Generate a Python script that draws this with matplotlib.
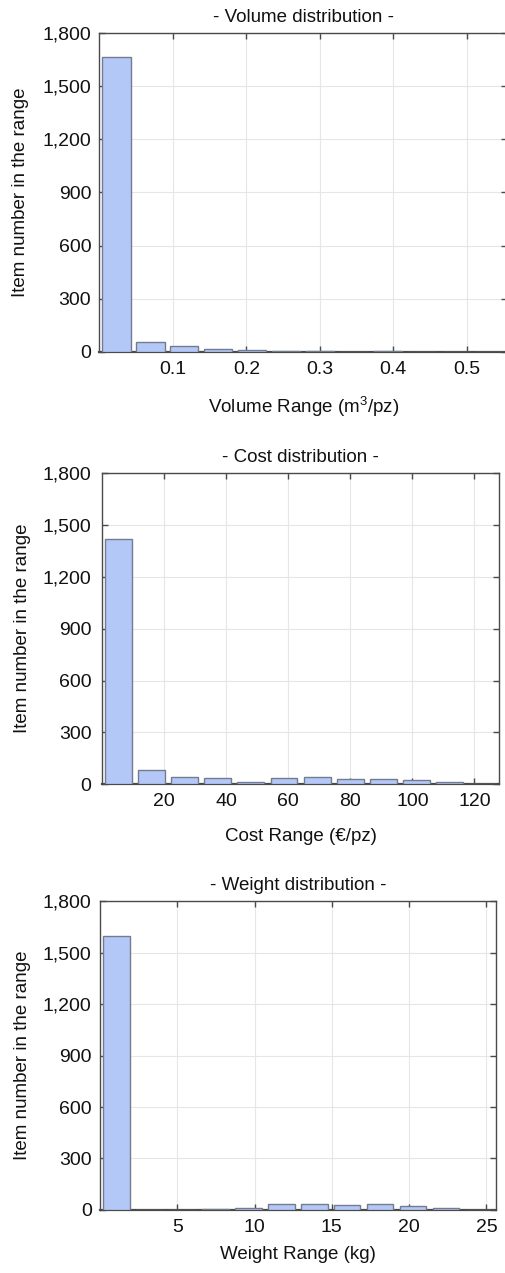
import matplotlib
matplotlib.use("Agg")
import matplotlib.pyplot as plt
from matplotlib.ticker import FuncFormatter
import numpy as np

plt.rcParams['font.family'] = ['Liberation Sans', 'DejaVu Sans']
plt.rcParams['mathtext.default'] = 'regular'

# Volume histogram (m3/pz), 12 equal bins over 0..0.555
volume_max = 0.555
volume_counts = [1665, 55, 33, 18, 9, 8, 4, 0, 3, 0, 0, 2]
volume_ticks = [0.1, 0.2, 0.3, 0.4, 0.5]

# Cost histogram (EUR/pz), 12 equal bins over 0..128
cost_max = 128
cost_counts = [1421, 81, 42, 35, 15, 36, 42, 29, 32, 27, 15, 3]
cost_ticks = [20, 40, 60, 80, 100, 120]

# Weight histogram (kg), 12 equal bins over 0..25.6
weight_max = 25.6
weight_counts = [1598, 0, 0, 3, 10, 35, 35, 30, 35, 25, 12, 0]
weight_ticks = [5, 10, 15, 20, 25]

y_ticks = [0, 300, 600, 900, 1200, 1500, 1800]

FS = 13.5
TICK_FS = 14

panels = [
    dict(title="- Volume distribution -", xlabel="Volume Range (m$^3$/pz)",
         xmax=volume_max, counts=volume_counts, xticks=volume_ticks,
         fmt=lambda v, p: f"{v:.1f}",
         rect=[0.1966, 0.7235, 0.8054, 0.2506], bw=0.83,
         xl_y=-0.134, yl_x=-0.173, ypad=6),
    dict(title="- Cost distribution -", xlabel="Cost Range (€/pz)",
         xmax=cost_max, counts=cost_counts, xticks=cost_ticks,
         fmt=lambda v, p: f"{v:.0f}",
         rect=[0.2012, 0.3840, 0.7856, 0.2443], bw=0.81,
         xl_y=-0.141, yl_x=-0.178, ypad=7.5),
    dict(title="- Weight distribution -", xlabel="Weight Range (kg)",
         xmax=weight_max, counts=weight_counts, xticks=weight_ticks,
         fmt=lambda v, p: f"{v:.0f}",
         rect=[0.1976, 0.0495, 0.7820, 0.2427], bw=0.80,
         xl_y=-0.117, yl_x=-0.174, ypad=6),
]

fig = plt.figure(figsize=(5.06, 12.73), dpi=100)
fig.patch.set_facecolor("white")

bar_face = "#b4c8f8"
bar_edge = "#737b90"
frame = "#4a4a4a"
txt = "#111111"

for p in panels:
    ax = fig.add_axes(p["rect"])
    n = len(p["counts"])
    step = p["xmax"] / n
    centers = (np.arange(n) + 0.5) * step
    ax.bar(centers, p["counts"], width=step * p["bw"], color=bar_face,
           edgecolor=bar_edge, linewidth=1.0, zorder=3)
    ax.set_xlim(0, p["xmax"])
    ax.set_ylim(0, 1800)
    ax.set_xticks(p["xticks"])
    ax.set_yticks(y_ticks)
    ax.xaxis.set_major_formatter(FuncFormatter(p["fmt"]))
    ax.yaxis.set_major_formatter(FuncFormatter(lambda v, q: f"{int(v):,}"))
    ax.grid(True, color="#e6e6e6", linewidth=0.8, zorder=0)
    ax.set_axisbelow(True)
    ax.tick_params(axis="both", direction="in", length=4, width=1,
                   color=frame, labelsize=TICK_FS, labelcolor=txt,
                   top=True, right=True)
    ax.tick_params(axis="x", pad=6.5)
    ax.tick_params(axis="y", pad=p["ypad"])
    for s in ax.spines.values():
        s.set_color(frame)
        s.set_linewidth(1.0)
    ax.spines["bottom"].set_linewidth(1.6)
    ax.set_title(p["title"], fontsize=FS, pad=8, color=txt)
    ax.set_xlabel(p["xlabel"], fontsize=FS, color=txt)
    ax.xaxis.set_label_coords(0.5, p["xl_y"])
    ax.set_ylabel("Item number in the range", fontsize=FS, color=txt)
    ax.yaxis.set_label_coords(p["yl_x"], 0.5)

fig.savefig("out.png", dpi=100)
